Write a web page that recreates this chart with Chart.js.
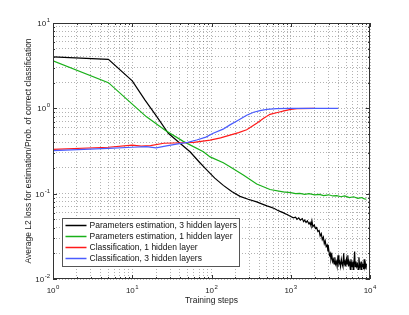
<!DOCTYPE html>
<html>
<head>
<meta charset="utf-8">
<script src="https://cdn.jsdelivr.net/npm/chart.js@4"></script>
<style>
  html, body { margin: 0; padding: 0; background: #fff; }
  #wrap { width: 409px; height: 315px; }
</style>
</head>
<body>
<div id="wrap"><canvas id="lossChart" width="409" height="315"></canvas></div>
<script>
// tick decades (labels are drawn as 10^n)
const xDecades = [0, 1, 2, 3, 4];
const yDecades = [-2, -1, 0, 1];
const minorSteps = [1, 2, 3, 4, 5, 6, 7, 8, 9];

const seriesLabels = [
    'Parameters estimation, 3 hidden layers',
    'Parameters estimation, 1 hidden layer',
    'Classification, 1 hidden layer',
    'Classification, 3 hidden layers'
];

// Parameters estimation, 3 hidden layers
const stepsEst3 = [1, 5, 10, 14.5, 20, 28.5, 40, 53.6, 70, 87, 110, 141, 180, 229, 290, 372, 430, 500, 547, 620, 680, 732, 800, 860, 900,
    1000, 1080, 1150, 1200, 1260, 1320, 1400, 1450, 1500, 1560, 1620, 1700, 1750, 1800, 1850, 1900, 1980, 2050, 2120, 2200, 2280, 2350,
    2430, 2500, 2580, 2650, 2720, 2800, 2880, 2950, 3000, 3080, 3150, 3220, 3300, 3380, 3450, 3520, 3600, 3680, 3760, 3850, 3950, 4050,
    4150, 4250, 4350, 4450, 4550, 4650, 4750, 4850, 4950, 5050, 5150, 5250, 5350, 5450, 5550, 5650, 5750, 5850, 5950, 6050, 6150, 6250,
    6400, 6500, 6650, 6800, 6950, 7100, 7250, 7400, 7550, 7700, 7850, 8000, 8150, 8300, 8450, 8600, 8750, 8900, 9000];
const lossEst3 = [4.0, 3.75, 2.1, 1.25, 0.82, 0.51, 0.39, 0.31, 0.235, 0.19, 0.152, 0.125, 0.106, 0.093, 0.086, 0.080, 0.076, 0.072, 0.070, 0.067, 0.064, 0.062, 0.060, 0.058, 0.057,
    0.054, 0.052, 0.053, 0.050, 0.052, 0.049, 0.051, 0.047, 0.049, 0.046, 0.048, 0.044, 0.046, 0.042, 0.048, 0.041, 0.043, 0.039, 0.040, 0.036, 0.037, 0.032,
    0.034, 0.029, 0.031, 0.026, 0.028, 0.024, 0.025, 0.021, 0.023, 0.019, 0.020, 0.017, 0.019, 0.016, 0.017, 0.015, 0.018, 0.015, 0.016, 0.014, 0.019, 0.015,
    0.016, 0.014, 0.017, 0.015, 0.014, 0.020, 0.015, 0.016, 0.014, 0.017, 0.015, 0.019, 0.014, 0.016, 0.015, 0.013, 0.017, 0.015, 0.014, 0.016, 0.013, 0.015,
    0.021, 0.014, 0.016, 0.014, 0.015, 0.013, 0.018, 0.014, 0.015, 0.013, 0.016, 0.014, 0.015, 0.013, 0.017, 0.014, 0.015, 0.013, 0.015];

// Parameters estimation, 1 hidden layer
const stepsEst1 = [1, 5, 10, 15, 26, 44, 79, 96, 141, 171, 252, 372, 547, 800, 1000, 1150, 1300, 1500, 1700, 2000, 2300, 2600, 3000, 3400,
    3800, 4300, 4800, 5500, 6200, 7000, 7800, 8500, 9000];
const lossEst1 = [3.6, 2.0, 1.12, 0.80, 0.555, 0.41, 0.31, 0.27, 0.23, 0.207, 0.165, 0.13, 0.112, 0.105, 0.103, 0.100, 0.101, 0.098, 0.100, 0.097, 0.098, 0.095, 0.097, 0.094,
    0.095, 0.092, 0.094, 0.090, 0.092, 0.088, 0.090, 0.087, 0.086];

// Classification, 1 hidden layer
const stepsCls1 = [1, 5, 10, 13, 17, 25, 44, 60, 96, 130, 171, 220, 278, 372, 450, 547, 700, 846, 1000, 1200, 2000];
const accCls1 = [0.33, 0.35, 0.37, 0.36, 0.365, 0.39, 0.395, 0.40, 0.425, 0.45, 0.486, 0.52, 0.56, 0.667, 0.76, 0.85, 0.90, 0.94, 0.97, 0.99, 1.0];

// Classification, 3 hidden layers
const stepsCls3 = [1, 5, 10, 15, 20, 26, 36, 50, 65, 85, 105, 140, 171, 220, 278, 340, 409, 500, 664, 1000, 2000, 3950];
const accCls3 = [0.32, 0.34, 0.35, 0.355, 0.345, 0.36, 0.38, 0.40, 0.425, 0.46, 0.51, 0.57, 0.64, 0.73, 0.83, 0.90, 0.94, 0.97, 0.99, 1.0, 1.0, 1.0];

const seriesColors = ['#000000', '#19b019', '#ff1a1a', '#4a5cff'];

const FONT = '"Liberation Sans", Arial, Helvetica, sans-serif';
const TEXT_SIZE = 8.5;

function toPoints(xs, ys) {
    return xs.map((x, i) => ({ x: x, y: ys[i] }));
}

function decadeTicks(decades) {
    const vals = [];
    decades.forEach((d, i) => {
        const base = Math.pow(10, d);
        if (i === decades.length - 1) { vals.push(base); return; }
        minorSteps.forEach(m => vals.push(m * base));
    });
    return vals.map(v => ({ value: v }));
}

function isDecade(v) {
    const l = Math.log10(v);
    return Math.abs(l - Math.round(l)) < 1e-9;
}

// 10^n label, anchor = 'center' (x axis) or 'right' (y axis)
function drawPow(ctx, exp, px, py, anchor) {
    const baseFont = '8px ' + FONT;
    const expFont = '6px ' + FONT;
    ctx.font = baseFont;
    const wb = ctx.measureText('10').width;
    ctx.font = expFont;
    const expText = String(exp);
    const we = ctx.measureText(expText).width;
    const total = wb + 0.5 + we;
    let left = anchor === 'center' ? px - total / 2 : px - total;
    ctx.textAlign = 'left';
    ctx.textBaseline = 'alphabetic';
    ctx.font = baseFont;
    ctx.fillText('10', left, py);
    ctx.font = expFont;
    ctx.fillText(expText, left + wb + 0.5, py - 4);
}

const matlabFrame = {
    id: 'matlabFrame',
    afterDraw(chart) {
        const { ctx, chartArea: a, scales: { x, y } } = chart;
        ctx.save();
        ctx.fillStyle = '#222';
        ctx.strokeStyle = '#333';
        ctx.lineWidth = 1;

        // inward tick marks on all four sides
        x.ticks.forEach(t => {
            const px = Math.round(x.getPixelForValue(t.value)) + 0.5;
            const len = isDecade(t.value) ? 4 : 2;
            ctx.beginPath();
            ctx.moveTo(px, a.bottom); ctx.lineTo(px, a.bottom - len);
            ctx.moveTo(px, a.top); ctx.lineTo(px, a.top + len);
            ctx.stroke();
        });
        y.ticks.forEach(t => {
            const py = Math.round(y.getPixelForValue(t.value)) + 0.5;
            const len = isDecade(t.value) ? 4 : 2;
            ctx.beginPath();
            ctx.moveTo(a.left, py); ctx.lineTo(a.left + len, py);
            ctx.moveTo(a.right, py); ctx.lineTo(a.right - len, py);
            ctx.stroke();
        });

        // axes box
        ctx.strokeRect(Math.round(a.left) + 0.5, Math.round(a.top) + 0.5,
            Math.round(a.width) - 1, Math.round(a.height) - 1);

        // tick labels
        xDecades.forEach(d => drawPow(ctx, d, x.getPixelForValue(Math.pow(10, d)), a.bottom + 14, 'center'));
        yDecades.forEach(d => drawPow(ctx, d, a.left - 3, y.getPixelForValue(Math.pow(10, d)) + 3, 'right'));

        // axis titles
        ctx.font = TEXT_SIZE + 'px ' + FONT;
        ctx.textAlign = 'center';
        ctx.textBaseline = 'alphabetic';
        ctx.fillText('Training steps', (a.left + a.right) / 2, a.bottom + 24);
        ctx.save();
        ctx.translate(a.left - 22, (a.top + a.bottom) / 2);
        ctx.rotate(-Math.PI / 2);
        ctx.fillText('Average L2 loss for estimation/Prob. of correct classification', 0, 0);
        ctx.restore();

        // legend box, lower left inside the axes
        ctx.font = TEXT_SIZE + 'px ' + FONT;
        const textW = Math.max(...seriesLabels.map(s => ctx.measureText(s).width));
        const bx = Math.round(a.left) + 9.5;
        const by = Math.round(a.bottom) - 60.5;
        const bw = Math.round(textW + 30);
        const bh = 48;
        ctx.fillStyle = '#fff';
        ctx.fillRect(bx, by, bw, bh);
        ctx.strokeStyle = '#555';
        ctx.strokeRect(bx, by, bw, bh);
        chart.data.datasets.forEach((ds, i) => {
            const ry = by + 7 + i * 11;
            ctx.strokeStyle = ds.borderColor;
            ctx.lineWidth = 1.5;
            ctx.beginPath();
            ctx.moveTo(bx + 3, ry); ctx.lineTo(bx + 24, ry);
            ctx.stroke();
            ctx.fillStyle = '#111';
            ctx.textAlign = 'left';
            ctx.textBaseline = 'middle';
            ctx.fillText(ds.label, bx + 27, ry + 0.5);
        });
        ctx.restore();
    }
};

const gridOpts = { color: 'rgba(0,0,0,0.3)', drawTicks: false, tickLength: 0, lineWidth: 1 };
const borderOpts = { display: false, dash: [1, 2] };

new Chart(document.getElementById('lossChart').getContext('2d'), {
    type: 'line',
    data: {
        datasets: [
            { label: seriesLabels[0], data: toPoints(stepsEst3, lossEst3), borderColor: seriesColors[0], order: 3 },
            { label: seriesLabels[1], data: toPoints(stepsEst1, lossEst1), borderColor: seriesColors[1], order: 2 },
            { label: seriesLabels[2], data: toPoints(stepsCls1, accCls1), borderColor: seriesColors[2], order: 1 },
            { label: seriesLabels[3], data: toPoints(stepsCls3, accCls3), borderColor: seriesColors[3], order: 0 }
        ].map(ds => Object.assign(ds, { borderWidth: 1.2, pointRadius: 0, fill: false, tension: 0 }))
    },
    options: {
        responsive: false,
        animation: false,
        devicePixelRatio: 1,
        layout: { padding: { left: 53, right: 39, top: 23, bottom: 36 } },
        scales: {
            x: {
                type: 'logarithmic', min: 1, max: 10000,
                afterBuildTicks: s => { s.ticks = decadeTicks(xDecades); },
                ticks: { display: false },
                grid: gridOpts,
                border: borderOpts
            },
            y: {
                type: 'logarithmic', min: 0.01, max: 10,
                afterBuildTicks: s => { s.ticks = decadeTicks(yDecades); },
                ticks: { display: false },
                grid: gridOpts,
                border: borderOpts
            }
        },
        plugins: {
            legend: { display: false },
            tooltip: { enabled: false }
        }
    },
    plugins: [matlabFrame]
});
</script>
</body>
</html>
